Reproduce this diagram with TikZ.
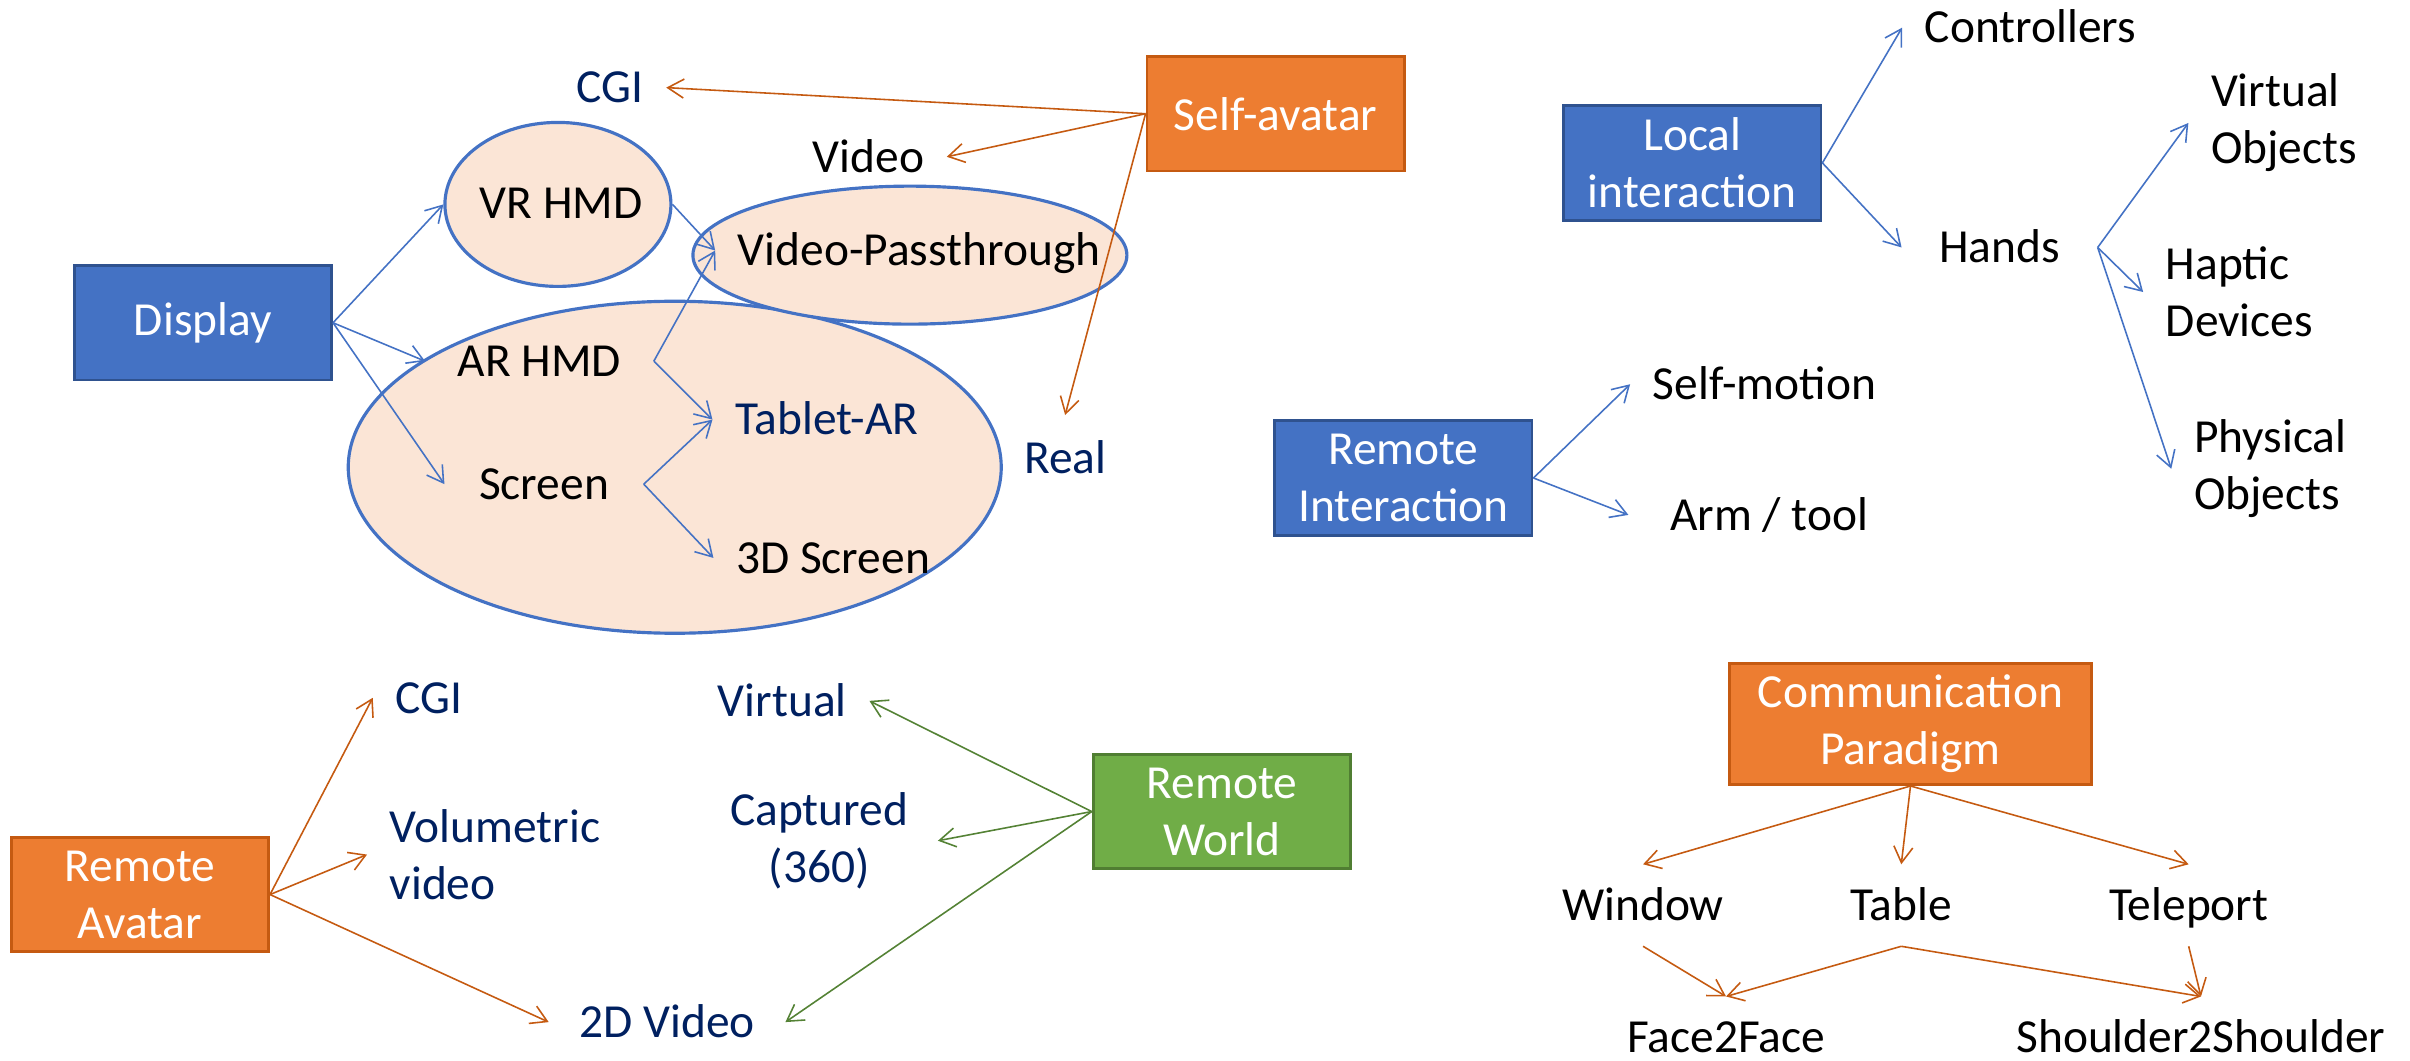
\documentclass[tikz,border=0pt]{standalone}
\usepackage{fontspec}
\setmainfont{Carlito}
\usetikzlibrary{arrows.meta,shapes.geometric}

\definecolor{boxblue}{HTML}{4472C4}
\definecolor{boxblueline}{HTML}{2F528F}
\definecolor{boxorange}{HTML}{ED7D31}
\definecolor{boxorangeline}{HTML}{C55A11}
\definecolor{boxgreen}{HTML}{70AD47}
\definecolor{boxgreenline}{HTML}{507E32}
\definecolor{peach}{HTML}{FBE5D6}
\definecolor{darkblue}{HTML}{002060}
\definecolor{arrgreen}{HTML}{548235}

\tikzset{
    box/.style={rectangle, line width=0.8pt, minimum width=2.575cm, minimum height=1.145cm, text=white, align=center},
    bluebox/.style={box, fill=boxblue, draw=boxblueline},
    orangebox/.style={box, fill=boxorange, draw=boxorangeline},
    greenbox/.style={box, fill=boxgreen, draw=boxgreenline},
    ell/.style={ellipse, draw=boxblue, fill=peach, line width=0.9pt, inner sep=0pt},
    lbl/.style={text height=8.7pt, text depth=0pt, inner xsep=2.2mm, inner ysep=2.5mm},
    twoline/.style={inner xsep=2.2mm, align=#1},
    dark/.style={lbl, text=darkblue},
    wide/.style={inner xsep=#1},
    barr/.style={draw=boxblue, line width=0.45pt, -{Straight Barb[length=1.6mm,width=1.9mm]}},
    oarr/.style={draw=boxorangeline, line width=0.45pt, -{Straight Barb[length=1.6mm,width=1.9mm]}},
    garr/.style={draw=arrgreen, line width=0.45pt, -{Straight Barb[length=1.6mm,width=1.9mm]}}
}

\begin{document}
\begin{tikzpicture}[x=0.1537mm, y=-0.1537mm, font=\fontsize{13.5}{16.2}\selectfont]
    \useasboundingbox (0,0) rectangle (1568,690);

    % ellipses
    \node[ell, minimum width=6.53cm, minimum height=3.32cm] (bigell) at (439,304) {};
    \node[ell, minimum width=4.34cm, minimum height=1.38cm] (vpell) at (592,166) {};
    \node[ell, minimum width=2.26cm, minimum height=1.64cm] (vrell) at (363,133) {};

    % boxes
    \node[bluebox] (disp) at (132,210) {Display};
    \node[orangebox] (selfav) at (830,74) {Self-avatar};
    \node[bluebox] (local) at (1101,106) {Local\\interaction};
    \node[bluebox] (remint) at (913,311) {Remote\\Interaction};
    \node[orangebox] (remav) at (91,582) {Remote\\Avatar};
    \node[greenbox] (remworld) at (795,528) {Remote\\World};
    \node[orangebox, minimum width=3.62cm] (comm) at (1243,471) {Communication\\Paradigm};

    % display labels
    \node[dark] (cgitop) at (397,57) {CGI};
    \node[lbl] (video) at (565,102) {Video};
    \node[lbl] (vrhmd) at (365,132) {VR HMD};
    \node[lbl] (vpass) at (598,163) {Video-Passthrough};
    \node[lbl, wide=3.2mm] (arhmd) at (351,235) {AR HMD};
    \node[lbl, wide=3.4mm] (screen) at (354,315) {Screen};
    \node[dark] (tabletar) at (538,273) {Tablet-AR};
    \node[lbl] (scr3d) at (542,363) {3D Screen};
    \node[dark, inner ysep=2.7mm] (real) at (693,298) {Real};

    % interaction labels
    \node[lbl] (ctrl) at (1321,18) {Controllers};
    \node[lbl, wide=3.7mm] (hands) at (1301,161) {Hands};
    \node[twoline=left] (virtobj) at (1486,80) {Virtual\\Objects};
    \node[twoline=left] (haptic) at (1457,190) {Haptic\\Devices};
    \node[twoline=left] (physobj) at (1477,305) {Physical\\Objects};
    \node[lbl] (selfmot) at (1148,250) {Self-motion};
    \node[lbl, wide=4.1mm] (armtool) at (1151,335) {Arm / tool};

    % remote labels
    \node[dark] (cgibot) at (279,454) {CGI};
    \node[twoline=left, text=darkblue] (volvid) at (322,556) {Volumetric\\video};
    \node[dark, wide=3.0mm] (vid2d) at (434,665) {2D Video};
    \node[dark] (virtual) at (509,456) {Virtual};
    \node[twoline=center, text=darkblue, wide=2.9mm] (captured) at (533,547) {Captured\\(360)};

    % paradigm labels
    \node[lbl] (window) at (1069,589) {Window};
    \node[lbl] (table) at (1237,589) {Table};
    \node[lbl] (teleport) at (1424,589) {Teleport};
    \node[lbl] (face) at (1123,675) {Face2Face};
    \node[lbl] (shoulder) at (1432,675) {Shoulder2Shoulder};

    % arrows
    \foreach \tgt in {vrell,arhmd,screen}
        \draw[barr] (disp.east) -- (\tgt.west);
    \draw[barr] (vrell.east) -- (vpass.west);
    \foreach \tgt in {vpass,tabletar}
        \draw[barr] (arhmd.east) -- (\tgt.west);
    \foreach \tgt in {tabletar,scr3d}
        \draw[barr] (screen.east) -- (\tgt.west);
    \foreach \tgt in {cgitop,video}
        \draw[oarr] (selfav.west) -- (\tgt.east);
    \draw[oarr] (selfav.west) -- (real.north);
    \foreach \tgt in {ctrl,hands}
        \draw[barr] (local.east) -- (\tgt.west);
    \foreach \tgt in {virtobj,haptic,physobj}
        \draw[barr] (hands.east) -- (\tgt.west);
    \foreach \tgt in {selfmot,armtool}
        \draw[barr] (remint.east) -- (\tgt.west);
    \foreach \tgt in {cgibot,volvid,vid2d}
        \draw[oarr] (remav.east) -- (\tgt.west);
    \foreach \tgt in {virtual,captured,vid2d}
        \draw[garr] (remworld.west) -- (\tgt.east);
    \foreach \tgt in {window,table,teleport}
        \draw[oarr] (comm.south) -- (\tgt.north);
    \foreach \src/\tgt in {window/face,table/face,table/shoulder,teleport/shoulder}
        \draw[oarr] (\src.south) -- (\tgt.north);
\end{tikzpicture}
\end{document}
